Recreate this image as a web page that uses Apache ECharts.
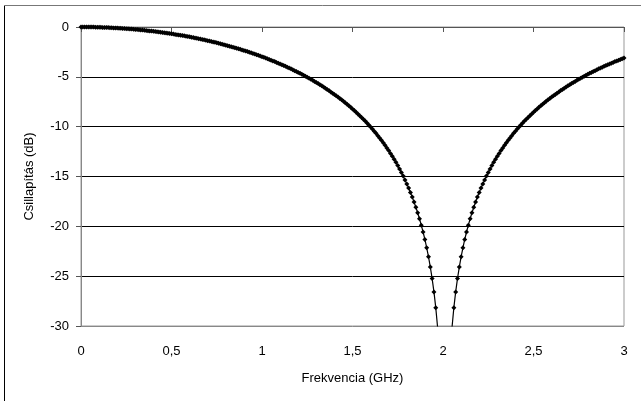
<!DOCTYPE html>
<html>
<head>
<meta charset="utf-8">
<script src="https://cdn.jsdelivr.net/npm/echarts@6/dist/echarts.min.js"></script>
<style>
html,body{margin:0;padding:0;background:#fff;}
#c{width:641px;height:401px;}
</style>
</head>
<body>
<div id="c"></div>
<script>
// Frequency sampling step (GHz) and attenuation values (0 .. 3 GHz)
const freqStepGHz = 0.01;
const attenuationDb = [
  0, 0, 0, 0, 0, -0.01, -0.01, -0.01, -0.02, -0.02,
  -0.03, -0.03, -0.04, -0.04, -0.05, -0.06, -0.07, -0.08, -0.09, -0.10,
  -0.11, -0.12, -0.13, -0.14, -0.15, -0.17, -0.18, -0.19, -0.21, -0.22,
  -0.24, -0.26, -0.27, -0.29, -0.31, -0.33, -0.35, -0.37, -0.39, -0.41,
  -0.43, -0.45, -0.48, -0.50, -0.52, -0.55, -0.57, -0.60, -0.63, -0.65,
  -0.68, -0.71, -0.74, -0.77, -0.80, -0.83, -0.86, -0.89, -0.92, -0.96,
  -0.99, -1.03, -1.06, -1.10, -1.13, -1.17, -1.21, -1.25, -1.29, -1.33,
  -1.37, -1.41, -1.45, -1.50, -1.54, -1.59, -1.63, -1.68, -1.72, -1.77,
  -1.82, -1.87, -1.92, -1.97, -2.02, -2.08, -2.13, -2.18, -2.24, -2.30,
  -2.35, -2.41, -2.47, -2.53, -2.59, -2.65, -2.72, -2.78, -2.84, -2.91,
  -2.98, -3.04, -3.11, -3.18, -3.25, -3.33, -3.40, -3.47, -3.55, -3.63,
  -3.71, -3.79, -3.87, -3.95, -4.03, -4.12, -4.20, -4.29, -4.38, -4.47,
  -4.56, -4.65, -4.75, -4.84, -4.94, -5.04, -5.14, -5.25, -5.35, -5.46,
  -5.57, -5.68, -5.79, -5.90, -6.02, -6.14, -6.26, -6.38, -6.51, -6.64,
  -6.77, -6.90, -7.03, -7.17, -7.31, -7.46, -7.60, -7.75, -7.91, -8.06,
  -8.22, -8.38, -8.55, -8.72, -8.90, -9.07, -9.26, -9.44, -9.64, -9.83,
  -10.04, -10.24, -10.46, -10.67, -10.90, -11.13, -11.37, -11.61, -11.87, -12.13,
  -12.40, -12.68, -12.97, -13.27, -13.58, -13.90, -14.24, -14.59, -14.95, -15.34,
  -15.74, -16.16, -16.60, -17.06, -17.56, -18.08, -18.64, -19.24, -19.88, -20.57,
  -21.32, -22.15, -23.06, -24.09, -25.24, -26.58, -28.16, -30.10, -32.60, -36.12,
  -42.14, -60.00, -42.14, -36.12, -32.60, -30.10, -28.16, -26.58, -25.24, -24.09,
  -23.06, -22.15, -21.32, -20.57, -19.88, -19.24, -18.64, -18.08, -17.56, -17.06,
  -16.60, -16.16, -15.74, -15.34, -14.95, -14.59, -14.24, -13.90, -13.58, -13.27,
  -12.97, -12.68, -12.40, -12.13, -11.87, -11.61, -11.37, -11.13, -10.90, -10.67,
  -10.46, -10.24, -10.04, -9.83, -9.64, -9.44, -9.26, -9.07, -8.90, -8.72,
  -8.55, -8.38, -8.22, -8.06, -7.91, -7.75, -7.60, -7.46, -7.31, -7.17,
  -7.03, -6.90, -6.77, -6.64, -6.51, -6.38, -6.26, -6.14, -6.02, -5.90,
  -5.79, -5.68, -5.57, -5.46, -5.35, -5.25, -5.14, -5.04, -4.94, -4.84,
  -4.75, -4.65, -4.56, -4.47, -4.38, -4.29, -4.20, -4.12, -4.03, -3.95,
  -3.87, -3.79, -3.71, -3.63, -3.55, -3.47, -3.40, -3.33, -3.25, -3.18,
  -3.11
];
const xTickLabels = ['0', '0,5', '1', '1,5', '2', '2,5', '3'];
const yTickLabels = ['-30', '-25', '-20', '-15', '-10', '-5', '0'];
const xAxisTitle = 'Frekvencia (GHz)';
const yAxisTitle = 'Csillapítás (dB)';

const seriesData = attenuationDb.map((v, i) => [+(i * freqStepGHz).toFixed(2), v]);

const chart = echarts.init(document.getElementById('c'), null, {renderer: 'canvas'});
const font = 'Liberation Sans, Arial, sans-serif';
chart.setOption({
  animation: false,
  backgroundColor: '#fff',
  graphic: [
    {type: 'line', shape: {x1: 4.5, y1: 5.5, x2: 4.5, y2: 401}, style: {stroke: '#000', lineWidth: 1}, z: 0},
    {type: 'line', shape: {x1: 4.5, y1: 5.5, x2: 641, y2: 5.5}, style: {stroke: '#777', lineWidth: 1}, z: 0}
  ],
  grid: {left: 81, right: 17, top: 27, bottom: 75, show: true, borderColor: '#999', borderWidth: 1, backgroundColor: '#fff'},
  xAxis: {
    type: 'value', min: 0, max: 3, interval: 0.5,
    name: xAxisTitle, nameLocation: 'middle', nameGap: 46,
    nameTextStyle: {fontFamily: font, fontSize: 13, color: '#000'},
    axisLine: {show: true, lineStyle: {color: '#555', width: 1}},
    axisTick: {show: true, length: 5, lineStyle: {color: '#555'}},
    axisLabel: {fontFamily: font, fontSize: 13, color: '#000', margin: 19,
      formatter: v => xTickLabels[Math.round(v / 0.5)]},
    splitLine: {show: false}
  },
  yAxis: {
    type: 'value', min: -30, max: 0, interval: 5,
    name: yAxisTitle, nameLocation: 'middle', nameGap: 45, nameRotate: 90,
    nameTextStyle: {fontFamily: font, fontSize: 13, color: '#000'},
    axisLine: {show: true, lineStyle: {color: '#888', width: 1}},
    axisTick: {show: true, length: 5, lineStyle: {color: '#555'}},
    axisLabel: {fontFamily: font, fontSize: 13, color: '#000', margin: 12,
      formatter: v => yTickLabels[Math.round((v + 30) / 5)]},
    splitLine: {show: true, lineStyle: {color: ['#888', '#000', '#000', '#000', '#000', '#000', '#999'], width: 1}}
  },
  series: [{
    type: 'line',
    data: seriesData,
    clip: true,
    symbol: 'diamond',
    symbolSize: 5,
    showSymbol: true,
    lineStyle: {color: '#000', width: 1.2},
    itemStyle: {color: '#000'},
    z: 5
  }]
});
</script>
</body>
</html>
